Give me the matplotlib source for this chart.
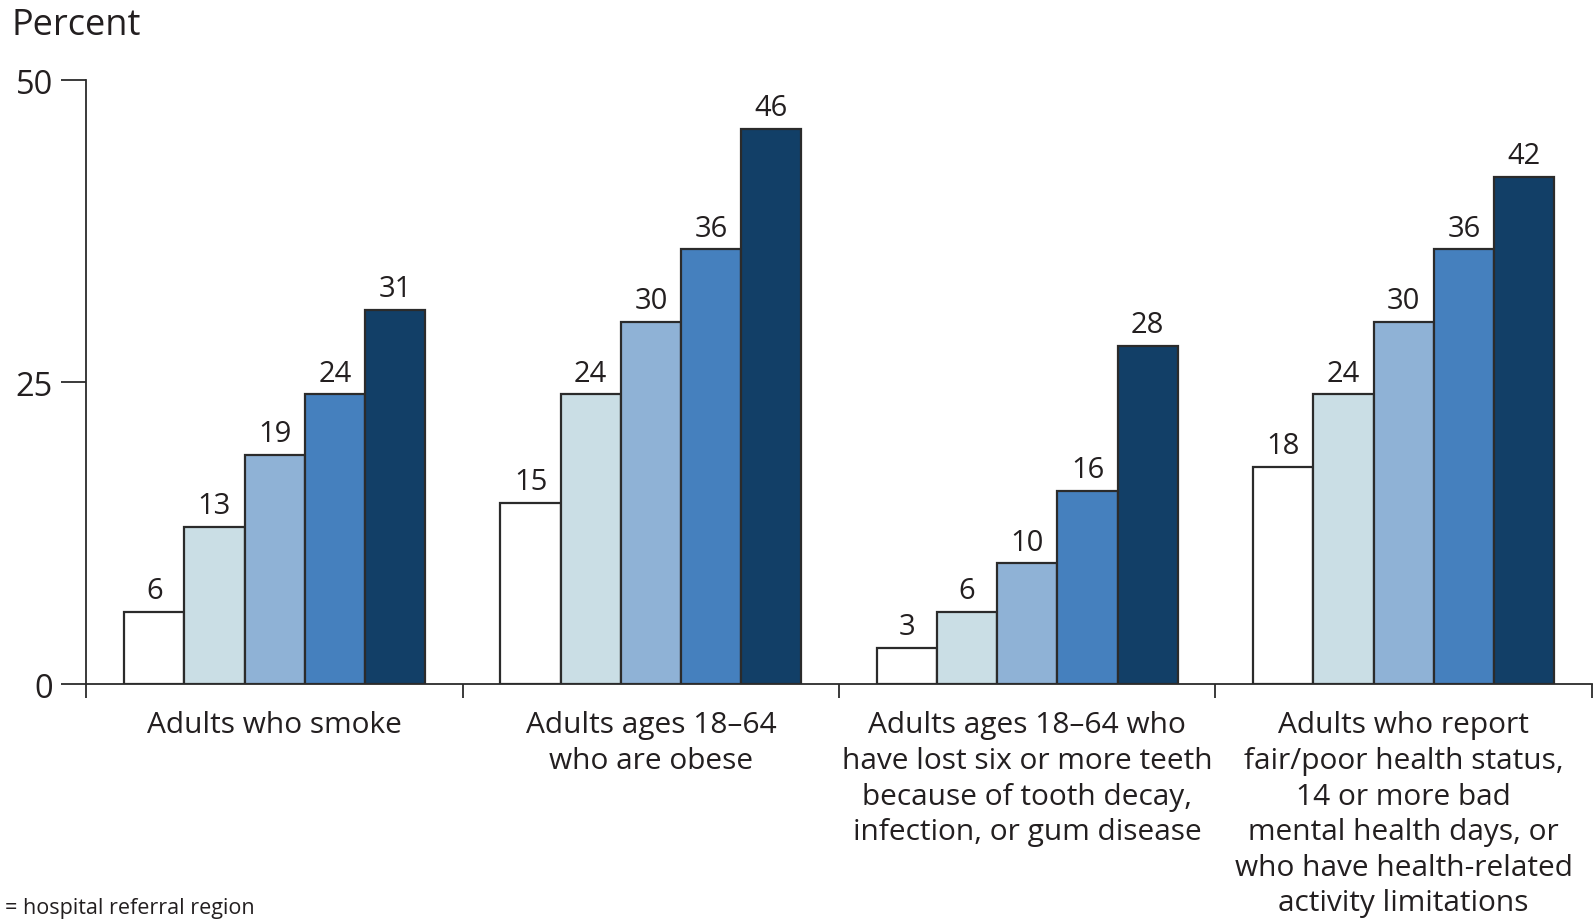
import matplotlib
matplotlib.use("Agg")
import matplotlib.pyplot as plt
import numpy as np

plt.rcParams['font.family'] = ['Open Sans', 'DejaVu Sans']

categories = [
    "Adults who smoke",
    "Adults ages 18\u201364\nwho are obese",
    "Adults ages 18\u201364 who\nhave lost six or more teeth\nbecause of tooth decay,\ninfection, or gum disease",
    "Adults who report\nfair/poor health status,\n14 or more bad\nmental health days, or\nwho have health-related\nactivity limitations",
]
quintile_1 = [6, 15, 3, 18]
quintile_2 = [13, 24, 6, 24]
quintile_3 = [19, 30, 10, 30]
quintile_4 = [24, 36, 16, 36]
quintile_5 = [31, 46, 28, 42]
yticks = [0, 25, 50]
footnote = "= hospital referral region"

series = [quintile_1, quintile_2, quintile_3, quintile_4, quintile_5]
colors = ["#ffffff", "#cadee5", "#8fb2d6", "#4580be", "#123f67"]
edge = "#2b2b2b"
txt = "#231f20"

fig = plt.figure(figsize=(15.95, 9.2), dpi=100)
ax = fig.add_axes([0.0542, 0.2554, 0.9438, 0.6561])

bw = 0.16
x = np.arange(len(categories))
for i, (vals, c) in enumerate(zip(series, colors)):
    pos = x + (i - 2) * bw
    ax.bar(pos, vals, width=bw, color=c, edgecolor=edge, linewidth=1.6, zorder=3)
    for p, v in zip(pos, vals):
        ax.text(p, v + 0.55, f"{v:.0f}", ha="center", va="bottom",
                fontsize=21, color=txt)

ax.set_xlim(-0.5, len(categories) - 0.5)
ax.set_ylim(0, 50)
ax.set_yticks(yticks)
ax.set_yticklabels([str(t) for t in yticks], fontsize=23.5, color=txt)
ax.tick_params(axis="y", length=18, width=1.3, color=edge, pad=6)

# group separators as downward ticks on the x axis
ax.set_xticks(np.arange(-0.5, len(categories), 1.0))
ax.set_xticklabels([])
ax.tick_params(axis="x", length=10, width=1.3, color=edge, direction="out")

for s in ["top", "right"]:
    ax.spines[s].set_visible(False)
for s in ["left", "bottom"]:
    ax.spines[s].set_linewidth(1.3)
    ax.spines[s].set_color(edge)

for xi, lab in zip(x, categories):
    ax.annotate(lab, xy=(xi, 0), xycoords=("data", "axes fraction"),
                xytext=(0, -19), textcoords="offset points",
                ha="center", va="top", fontsize=21.5, color=txt,
                linespacing=1.30)

fig.text(0.0075, 0.991, "Percent", ha="left", va="top", fontsize=26, color=txt)
fig.text(0.003, 0.001, footnote, ha="left", va="bottom", fontsize=15.5, color=txt)

fig.savefig("out.png", dpi=100)
